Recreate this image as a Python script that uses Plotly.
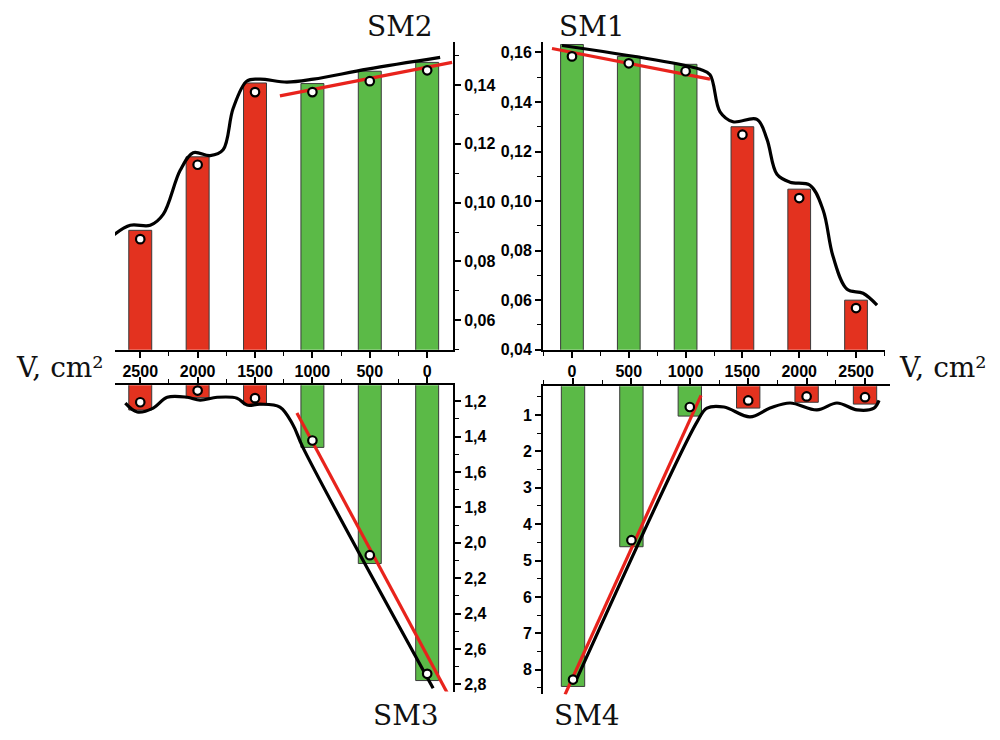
import plotly.graph_objects as go

# ---------------- data ----------------
V_sm2 = [2500, 2000, 1500, 1000, 500, 0]
V_sm1 = [0, 500, 1000, 1500, 2000, 2500]
V_labels = ["0", "500", "1000", "1500", "2000", "2500"]
V_ticks = [0, 500, 1000, 1500, 2000, 2500]

sm2_bars = [0.0906, 0.1156, 0.1407, 0.1405, 0.1447, 0.1477]
sm2_pts = [0.0876, 0.1129, 0.1376, 0.1376, 0.1413, 0.1450]
sm2_curve_x = [2735, 2587, 2413, 2300, 2152, 2039, 1891, 1778, 1691, 1570, 1457, 1222, 991, 522, -113]
sm2_curve_y = [0.0889, 0.0923, 0.0923, 0.0960, 0.1110, 0.1170, 0.1160, 0.1180, 0.1320, 0.1414, 0.1420, 0.1410, 0.1420, 0.1454, 0.1494]
sm2_fit_x = [1283, -217]
sm2_fit_y = [0.1363, 0.1477]

sm1_bars = [0.1632, 0.1584, 0.1552, 0.1300, 0.1048, 0.0600]
sm1_pts = [0.1584, 0.1556, 0.1524, 0.1268, 0.1012, 0.0568]
sm1_curve_x = [-88, 1127, 1215, 1303, 1417, 1628, 1716, 1804, 1919, 2095, 2210, 2298, 2421, 2562, 2685]
sm1_curve_y = [0.1628, 0.1532, 0.1510, 0.1360, 0.1320, 0.1330, 0.1250, 0.1108, 0.1076, 0.1064, 0.0964, 0.0776, 0.0644, 0.0628, 0.0580]
sm1_fit_x = [-176, 1215]
sm1_fit_y = [0.1616, 0.1492]

sm3_bars = [1.25, 1.18, 1.22, 1.461, 2.117, 2.778]
sm3_pts = [1.206, 1.14, 1.183, 1.422, 2.07, 2.74]
sm3_curve_x = [2630, 2526, 2387, 2265, 2091, 1978, 1830, 1657, 1570, 1457, 1283, 1170, 1083, -52]
sm3_curve_y = [1.211, 1.261, 1.239, 1.178, 1.178, 1.194, 1.178, 1.183, 1.222, 1.217, 1.233, 1.333, 1.461, 2.822]
sm3_fit_x = [1135, -200]
sm3_fit_y = [1.267, 2.878]

sm4_bars = [8.46, 4.62, 1.03, 0.81, 0.65, 0.70]
sm4_pts = [8.27, 4.44, 0.78, 0.60, 0.49, 0.51]
sm4_curve_x = [34, 1062, 1147, 1293, 1515, 1687, 1858, 2089, 2260, 2432, 2577, 2620]
sm4_curve_y = [8.24, 1.19, 0.81, 0.78, 1.05, 0.81, 0.67, 0.86, 0.67, 0.86, 0.81, 0.60]
sm4_fit_x = [-68, 1096]
sm4_fit_y = [8.68, 0.46]

y_sm2_ticks = [0.06, 0.08, 0.10, 0.12, 0.14]
y_sm2_labels = ["0,06", "0,08", "0,10", "0,12", "0,14"]
y_sm1_ticks = [0.04, 0.06, 0.08, 0.10, 0.12, 0.14, 0.16]
y_sm1_labels = ["0,04", "0,06", "0,08", "0,10", "0,12", "0,14", "0,16"]
y_sm3_ticks = [1.2, 1.4, 1.6, 1.8, 2.0, 2.2, 2.4, 2.6, 2.8]
y_sm3_labels = ["1,2", "1,4", "1,6", "1,8", "2,0", "2,2", "2,4", "2,6", "2,8"]
y_sm4_ticks = [1, 2, 3, 4, 5, 6, 7, 8]
y_sm4_labels = ["1", "2", "3", "4", "5", "6", "7", "8"]

# ---------------- style ----------------
GREEN = "#5BBA47"
RED = "#E3321F"
FIT = "#E8231C"


def colors_for(vs):
    return [GREEN if v <= 1000 else RED for v in vs]


fig = go.Figure()


def add_panel(xs, bars, pts, cx, cy, fx, fy, xa, ya):
    fig.add_trace(go.Bar(x=xs, y=bars, width=200, xaxis=xa, yaxis=ya,
                         marker=dict(color=colors_for(xs), line=dict(color="#3a3a3a", width=1)),
                         showlegend=False))
    fig.add_trace(go.Scatter(x=cx, y=cy, mode="lines", xaxis=xa, yaxis=ya,
                             line=dict(color="black", width=3.2, shape="spline", smoothing=1.0),
                             showlegend=False))
    fig.add_trace(go.Scatter(x=fx, y=fy, mode="lines", xaxis=xa, yaxis=ya,
                             line=dict(color=FIT, width=3.2), showlegend=False))
    fig.add_trace(go.Scatter(x=xs, y=pts, mode="markers", xaxis=xa, yaxis=ya, cliponaxis=False,
                             marker=dict(symbol="circle", size=8.5, color="white",
                                         line=dict(color="black", width=2.2)),
                             showlegend=False))


add_panel(V_sm2, sm2_bars, sm2_pts, sm2_curve_x, sm2_curve_y, sm2_fit_x, sm2_fit_y, "x", "y")
add_panel(V_sm1, sm1_bars, sm1_pts, sm1_curve_x, sm1_curve_y, sm1_fit_x, sm1_fit_y, "x2", "y2")
add_panel(V_sm2, sm3_bars, sm3_pts, sm3_curve_x, sm3_curve_y, sm3_fit_x, sm3_fit_y, "x3", "y3")
add_panel(V_sm1, sm4_bars, sm4_pts, sm4_curve_x, sm4_curve_y, sm4_fit_x, sm4_fit_y, "x4", "y4")

tickfont = dict(family="Liberation Sans, Arial", size=16, color="black", weight=700)

common_x = dict(tickmode="array", tickvals=V_ticks, ticktext=V_labels, showline=True,
                linecolor="black", linewidth=2, ticks="outside", ticklen=6, tickwidth=1.5,
                tickcolor="black", showgrid=False, zeroline=False, tickfont=tickfont,
                minor=dict(tickmode="linear", tick0=250, dtick=500, ticks="outside",
                           ticklen=4, tickwidth=1.2, tickcolor="black"))
common_y = dict(tickmode="array", showline=True, linecolor="black", linewidth=2,
                ticks="outside", ticklen=6, tickwidth=1.5, tickcolor="black",
                showgrid=False, zeroline=False, tickfont=tickfont)

fig.update_layout(
    width=1000, height=740,
    margin=dict(l=0, r=0, t=0, b=0),
    paper_bgcolor="white", plot_bgcolor="rgba(0,0,0,0)",
    barmode="overlay",
    xaxis=dict(common_x, domain=[0.115, 0.453], range=[2720, -225], anchor="y", side="bottom"),
    yaxis=dict(common_y, domain=[0.5216, 0.9432], range=[0.05, 0.1548], anchor="x", side="right",
               tickvals=y_sm2_ticks, ticktext=y_sm2_labels,
               minor=dict(tickmode="linear", tick0=0.05, dtick=0.02, ticks="outside",
                          ticklen=4, tickwidth=1.2, tickcolor="black")),
    xaxis2=dict(common_x, domain=[0.543, 0.885], range=[-255, 2755], anchor="y2", side="bottom"),
    yaxis2=dict(common_y, domain=[0.5216, 0.9432], range=[0.04, 0.1644], anchor="x2", side="left",
                tickvals=y_sm1_ticks, ticktext=y_sm1_labels,
                minor=dict(tickmode="linear", tick0=0.05, dtick=0.02, ticks="outside",
                           ticklen=4, tickwidth=1.2, tickcolor="black")),
    xaxis3=dict(common_x, domain=[0.115, 0.453], range=[2720, -225], anchor="y3", side="top",
                showticklabels=False),
    yaxis3=dict(common_y, domain=[0.054, 0.473], range=[2.84, 1.11], anchor="x3", side="right",
                tickvals=y_sm3_ticks, ticktext=y_sm3_labels,
                minor=dict(tickmode="linear", tick0=1.1, dtick=0.2, ticks="outside",
                           ticklen=4, tickwidth=1.2, tickcolor="black")),
    xaxis4=dict(common_x, domain=[0.543, 0.890], range=[-257, 2714], anchor="y4", side="top",
                showticklabels=False),
    yaxis4=dict(common_y, domain=[0.05, 0.4716], range=[8.68, 0.21], anchor="x4", side="left",
                tickvals=y_sm4_ticks, ticktext=y_sm4_labels,
                minor=dict(tickmode="linear", tick0=0.5, dtick=1, ticks="outside",
                           ticklen=4, tickwidth=1.2, tickcolor="black")),
)

title_font = dict(family="DejaVu Serif", size=28, color="#111")
label_font = dict(family="DejaVu Serif", size=28, color="#111")
annots = [
    dict(text="SM2", x=0.400, y=1 - 27 / 740),
    dict(text="SM1", x=0.592, y=1 - 27 / 740),
    dict(text="SM3", x=0.406, y=1 - 724 / 740),
    dict(text="SM4", x=0.587, y=1 - 724 / 740),
]
for a in annots:
    fig.add_annotation(xref="paper", yref="paper", showarrow=False, font=title_font,
                       xanchor="center", yanchor="middle", **a)
fig.add_annotation(xref="paper", yref="paper", showarrow=False, font=label_font,
                   text="V, cm²", x=0.060, y=1 - 372 / 740, xanchor="center", yanchor="middle")
fig.add_annotation(xref="paper", yref="paper", showarrow=False, font=label_font,
                   text="V, cm²", x=0.943, y=1 - 372 / 740, xanchor="center", yanchor="middle")

fig.write_html("out.html", config={"displayModeBar": False},
               post_script="document.body.style.margin='0';document.body.style.padding='0';")
